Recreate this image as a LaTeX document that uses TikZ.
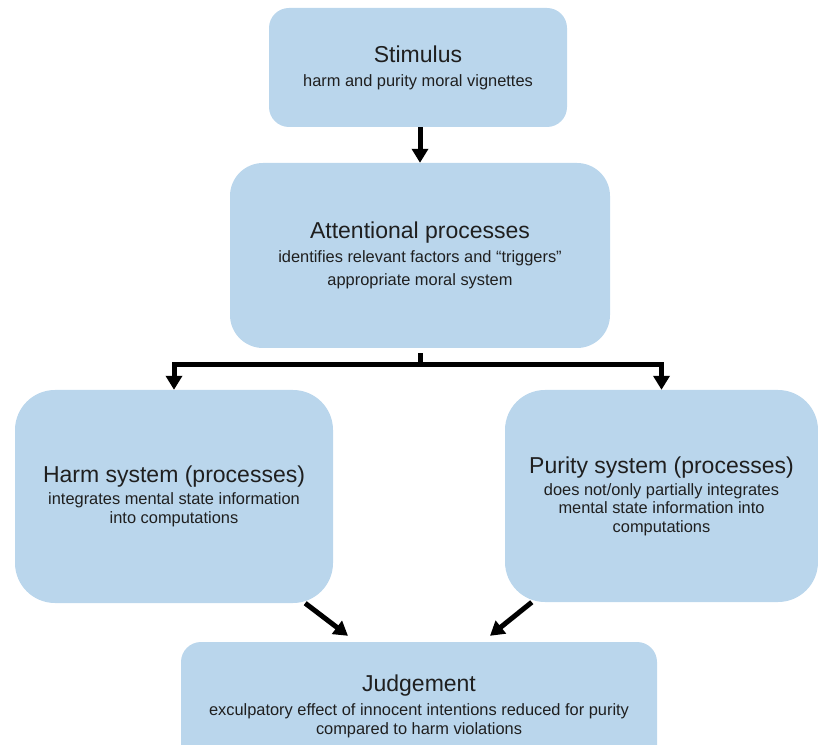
\documentclass[tikz,border=0pt]{standalone}
\usepackage{fontspec}
\setmainfont{Liberation Sans}
\usetikzlibrary{arrows.meta, calc}
\definecolor{boxblue}{RGB}{186,214,236}
\newcommand{\boxtitle}{\fontsize{23}{26}\selectfont}
\newcommand{\boxtext}{\fontsize{16.4}{18.5}\selectfont}

\begin{document}
\begin{tikzpicture}[x=1pt, y=1pt,
  box/.style={fill=boxblue, text=black!88, align=center, font=\boxtext, inner sep=0pt},
  arr/.style={line width=5pt, -{Triangle[width=16pt, length=14pt]}}]
\useasboundingbox (0,0) rectangle (818,744);
\clip (0,0) rectangle (818,744);

\node[box, minimum width=298pt, minimum height=119pt, rounded corners=20pt] (stim) at (418,676.5)
  {{\boxtitle Stimulus}\\[5.5pt] harm and purity moral vignettes};
\node[box, minimum width=380pt, minimum height=185pt, rounded corners=33pt] (attn) at (420,488.5)
  {{\boxtitle Attentional processes}\\[5.5pt] identifies relevant factors and “triggers”\\[4.5pt] appropriate moral system};
\node[box, minimum width=318pt, minimum height=213pt, rounded corners=40pt] (harm) at (174,247.5)
  {{\boxtitle Harm system (processes)}\\[3.5pt] integrates mental state information\\ into computations};
\node[box, minimum width=313pt, minimum height=212pt, rounded corners=40pt] (pur) at (661.5,248)
  {{\boxtitle Purity system (processes)}\\[3.5pt] does not/only partially integrates\\ mental state information into\\ computations};
\node[box, minimum width=476pt, minimum height=128pt, rounded corners=20pt] (judg) at (419,38)
  {{\boxtitle Judgement}\\[6pt] exculpatory effect of innocent intentions reduced for purity\\ compared to harm violations};

\draw[arr] (attn.north |- stim.south) -- (attn.north);
\draw[arr, shorten <=5pt] (attn.south) -- ++(0,-16) -| (harm.north);
\draw[arr, shorten <=5pt] (attn.south) -- ++(0,-16) -| (pur.north);
\draw[arr] ($(harm.south east)+(-28,0)$) -- ($(judg.north)+(-71,6)$);
\draw[arr] ($(pur.south west)+(27,0)$) -- ($(judg.north)+(71,6)$);
\end{tikzpicture}
\end{document}
